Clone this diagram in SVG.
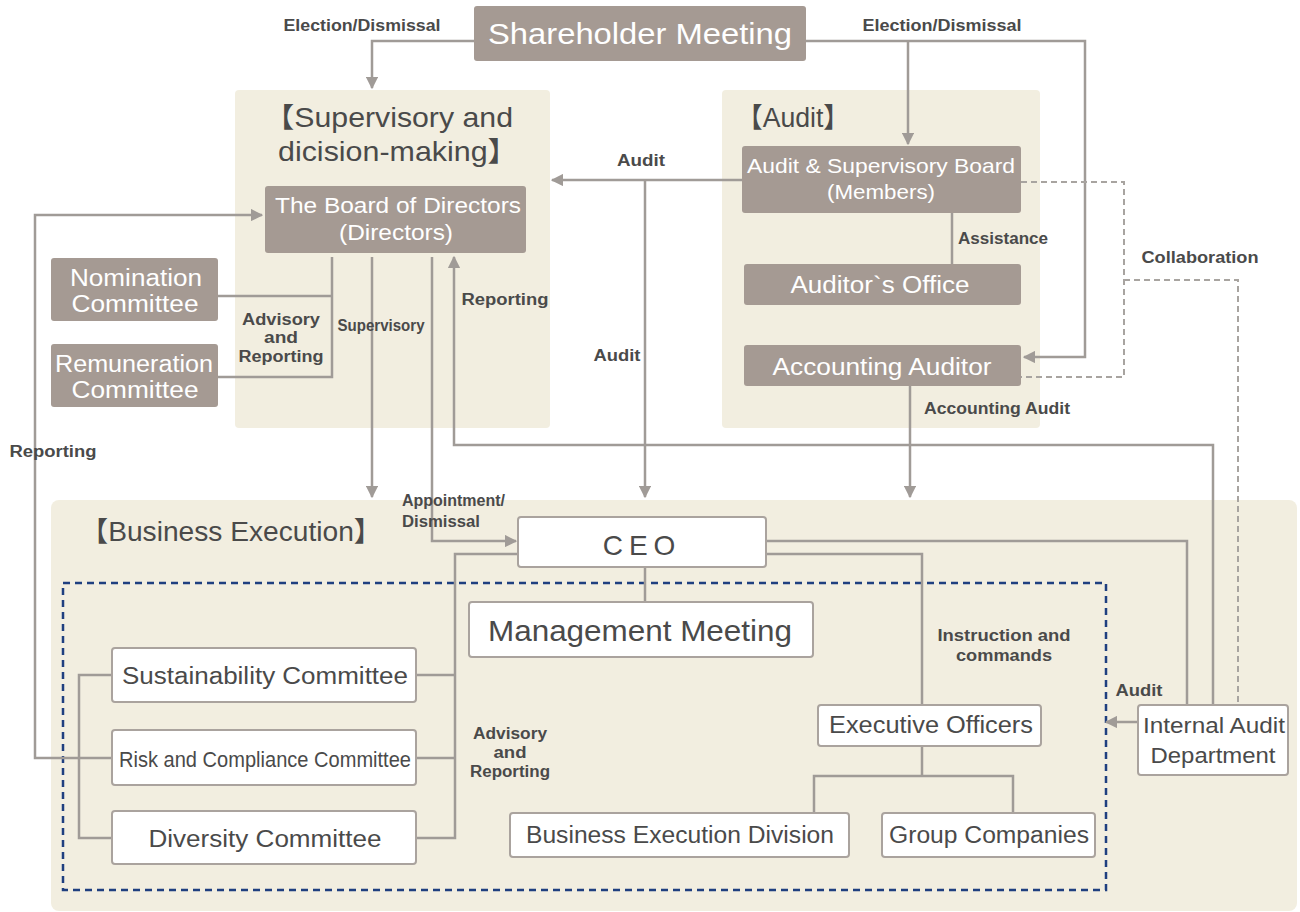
<svg xmlns="http://www.w3.org/2000/svg" width="1300" height="912" viewBox="0 0 1300 912">
<defs>
<style>
text{font-family:"Liberation Sans","Noto Sans","Noto Sans CJK JP",sans-serif;}
.panel{fill:#f2eee0;}
.gbox{fill:#a59a93;}
.wbox{fill:#ffffff;stroke:#aaa39e;stroke-width:2;}
.wt{fill:#ffffff;text-anchor:middle;}
.dt{fill:#4a4a4a;text-anchor:middle;}
.lbl{fill:#4a4a4a;font-size:16px;font-weight:bold;text-anchor:middle;}
.ttl{fill:#4a4a4a;font-size:27.5px;}
.ln{fill:none;stroke:#a09b97;stroke-width:2.5;}
.dash{fill:none;stroke:#a8a4a0;stroke-width:2;stroke-dasharray:6 4;}
.blue{fill:none;stroke:#1f3f7f;stroke-width:2.5;stroke-dasharray:7 5;}
</style>
<marker id="ah" viewBox="0 0 10 10" refX="9" refY="5" markerWidth="5" markerHeight="5" orient="auto" markerUnits="strokeWidth">
<path d="M0,0 L10,5 L0,10 z" fill="#a09b97"/>
</marker>
</defs>
<rect width="1300" height="912" fill="#ffffff"/>

<g id="panels">
<rect class="panel" x="235" y="90" width="315" height="338" rx="4"/>
<text class="ttl" x="264" y="127" textLength="249" lengthAdjust="spacingAndGlyphs">【Supervisory and</text>
<text class="ttl" x="278" y="161" textLength="240" lengthAdjust="spacingAndGlyphs">dicision-making】</text>
<rect class="panel" x="722" y="90" width="318" height="338" rx="4"/>
<text class="ttl" x="736" y="127" textLength="114" lengthAdjust="spacingAndGlyphs">【Audit】</text>
<rect class="panel" x="51" y="500" width="1246" height="411" rx="8"/>
<text class="ttl" x="80" y="541" textLength="302" lengthAdjust="spacingAndGlyphs">【Business Execution】</text>
<rect class="blue" x="63" y="583" width="1043" height="307"/>
</g>

<g id="connectors">
<polyline class="ln" points="474,41 372,41 372,88" marker-end="url(#ah)"/>
<polyline class="ln" points="806,41 1085,41 1085,357 1024,357" marker-end="url(#ah)"/>
<polyline class="ln" points="908,41 908,144" marker-end="url(#ah)"/>
<polyline class="ln" points="742,180 552,180" marker-end="url(#ah)"/>
<polyline class="ln" points="645,180 645,497" marker-end="url(#ah)"/>
<polyline class="ln" points="952,213 952,264"/>
<polyline class="ln" points="910,386 910,497" marker-end="url(#ah)"/>
<polyline class="dash" points="1021,182 1124,182 1124,377 1021,377"/>
<polyline class="dash" points="1124,280 1238,280 1238,705"/>
<polyline class="ln" points="218,296 332,296"/>
<polyline class="ln" points="332,257 332,377 218,377"/>
<polyline class="ln" points="372,257 372,497" marker-end="url(#ah)"/>
<polyline class="ln" points="432,257 432,541 516,541" marker-end="url(#ah)"/>
<polyline class="ln" points="1213,705 1213,445 454,445 454,257" marker-end="url(#ah)"/>
<polyline class="ln" points="112,758 35,758 35,215 262,215" marker-end="url(#ah)"/>
<polyline class="ln" points="766,541 1187,541 1187,705"/>
<polyline class="ln" points="766,554 922,554 922,705"/>
<polyline class="ln" points="518,554 455,554 455,838 416,838"/>
<polyline class="ln" points="416,675 455,675"/>
<polyline class="ln" points="416,758 455,758"/>
<polyline class="ln" points="645,567 645,602"/>
<polyline class="ln" points="112,675 79,675 79,838 112,838"/>
<polyline class="ln" points="922,746 922,776"/>
<polyline class="ln" points="814,813 814,776 1013,776 1013,813"/>
<polyline class="ln" points="1138,722 1106,722" marker-end="url(#ah)"/>
<text class="lbl" x="362" y="31" textLength="157" lengthAdjust="spacingAndGlyphs">Election/Dismissal</text>
<text class="lbl" x="942" y="31" textLength="159" lengthAdjust="spacingAndGlyphs">Election/Dismissal</text>
<text class="lbl" x="641" y="166" textLength="48" lengthAdjust="spacingAndGlyphs">Audit</text>
<text class="lbl" x="617" y="361" textLength="47" lengthAdjust="spacingAndGlyphs">Audit</text>
<text class="lbl" x="1003" y="244" textLength="90" lengthAdjust="spacingAndGlyphs">Assistance</text>
<text class="lbl" x="997" y="414" textLength="146" lengthAdjust="spacingAndGlyphs">Accounting Audit</text>
<text class="lbl" x="1200" y="263" textLength="117" lengthAdjust="spacingAndGlyphs">Collaboration</text>
<text class="lbl" x="281" y="325" textLength="78" lengthAdjust="spacingAndGlyphs">Advisory</text>
<text class="lbl" x="281" y="343" textLength="34" lengthAdjust="spacingAndGlyphs">and</text>
<text class="lbl" x="281" y="362" textLength="85" lengthAdjust="spacingAndGlyphs">Reporting</text>
<text class="lbl" x="381" y="331" textLength="87" lengthAdjust="spacingAndGlyphs">Supervisory</text>
<text class="lbl" x="505" y="305" textLength="87" lengthAdjust="spacingAndGlyphs">Reporting</text>
<text class="lbl" x="53" y="457" textLength="87" lengthAdjust="spacingAndGlyphs">Reporting</text>
<text class="lbl" x="402" y="506" style="text-anchor:start" textLength="103" lengthAdjust="spacingAndGlyphs">Appointment/</text>
<text class="lbl" x="402" y="527" style="text-anchor:start" textLength="78" lengthAdjust="spacingAndGlyphs">Dismissal</text>
<text class="lbl" x="1004" y="641" textLength="133" lengthAdjust="spacingAndGlyphs">Instruction and</text>
<text class="lbl" x="1004" y="661" textLength="96" lengthAdjust="spacingAndGlyphs">commands</text>
<text class="lbl" x="510" y="739" textLength="74" lengthAdjust="spacingAndGlyphs">Advisory</text>
<text class="lbl" x="510" y="758" textLength="33" lengthAdjust="spacingAndGlyphs">and</text>
<text class="lbl" x="510" y="777" textLength="80" lengthAdjust="spacingAndGlyphs">Reporting</text>
<text class="lbl" x="1139" y="696" textLength="47" lengthAdjust="spacingAndGlyphs">Audit</text>
</g>

<g id="shareholder">
<rect class="gbox" x="474" y="6" width="332" height="55" rx="3"/>
<text class="wt" x="640" y="44" font-size="29" textLength="304" lengthAdjust="spacingAndGlyphs">Shareholder Meeting</text>
</g>
<g id="board">
<rect class="gbox" x="265" y="186" width="261" height="67" rx="3"/>
<text class="wt" x="398" y="213" font-size="22" textLength="246" lengthAdjust="spacingAndGlyphs">The Board of Directors</text>
<text class="wt" x="396" y="240" font-size="22" textLength="114" lengthAdjust="spacingAndGlyphs">(Directors)</text>
</g>
<g id="asboard">
<rect class="gbox" x="742" y="146" width="279" height="67" rx="3"/>
<text class="wt" x="881" y="173" font-size="21" textLength="268" lengthAdjust="spacingAndGlyphs">Audit &amp; Supervisory Board</text>
<text class="wt" x="881" y="199" font-size="21" textLength="108" lengthAdjust="spacingAndGlyphs">(Members)</text>
</g>
<g id="auditoffice">
<rect class="gbox" x="744" y="264" width="277" height="41" rx="3"/>
<text class="wt" x="880" y="293" font-size="23" textLength="179" lengthAdjust="spacingAndGlyphs">Auditor`s Office</text>
</g>
<g id="accauditor">
<rect class="gbox" x="744" y="345" width="277" height="41" rx="3"/>
<text class="wt" x="882" y="375" font-size="23" textLength="219" lengthAdjust="spacingAndGlyphs">Accounting Auditor</text>
</g>
<g id="nomination">
<rect class="gbox" x="51" y="258" width="167" height="63" rx="3"/>
<text class="wt" x="136" y="286" font-size="23" textLength="132" lengthAdjust="spacingAndGlyphs">Nomination</text>
<text class="wt" x="135" y="312" font-size="23" textLength="127" lengthAdjust="spacingAndGlyphs">Committee</text>
</g>
<g id="remuneration">
<rect class="gbox" x="51" y="344" width="167" height="63" rx="3"/>
<text class="wt" x="134" y="372" font-size="23" textLength="158" lengthAdjust="spacingAndGlyphs">Remuneration</text>
<text class="wt" x="135" y="398" font-size="23" textLength="127" lengthAdjust="spacingAndGlyphs">Committee</text>
</g>
<g id="ceo">
<rect class="wbox" x="518" y="517" width="248" height="50" rx="3"/>
<text class="dt" x="642" y="555" font-size="28" letter-spacing="6">CEO</text>
</g>
<g id="mgmt">
<rect class="wbox" x="469" y="602" width="344" height="55" rx="3"/>
<text class="dt" x="640" y="641" font-size="29" textLength="304" lengthAdjust="spacingAndGlyphs">Management Meeting</text>
</g>
<g id="sustain">
<rect class="wbox" x="112" y="648" width="304" height="54" rx="3"/>
<text class="dt" x="265" y="684" font-size="23" textLength="286" lengthAdjust="spacingAndGlyphs">Sustainability Committee</text>
</g>
<g id="risk">
<rect class="wbox" x="112" y="730" width="304" height="55" rx="3"/>
<text class="dt" x="265" y="767" font-size="22" textLength="292" lengthAdjust="spacingAndGlyphs">Risk and Compliance Committee</text>
</g>
<g id="diversity">
<rect class="wbox" x="112" y="811" width="304" height="53" rx="3"/>
<text class="dt" x="265" y="847" font-size="23" textLength="233" lengthAdjust="spacingAndGlyphs">Diversity Committee</text>
</g>
<g id="execofficers">
<rect class="wbox" x="818" y="705" width="223" height="41" rx="3"/>
<text class="dt" x="931" y="733" font-size="23" textLength="204" lengthAdjust="spacingAndGlyphs">Executive Officers</text>
</g>
<g id="bizdiv">
<rect class="wbox" x="510" y="813" width="339" height="44" rx="3"/>
<text class="dt" x="680" y="843" font-size="23" textLength="308" lengthAdjust="spacingAndGlyphs">Business Execution Division</text>
</g>
<g id="group">
<rect class="wbox" x="882" y="813" width="213" height="44" rx="3"/>
<text class="dt" x="989" y="843" font-size="23" textLength="200" lengthAdjust="spacingAndGlyphs">Group Companies</text>
</g>
<g id="internalaudit">
<rect class="wbox" x="1138" y="705" width="150" height="70" rx="3"/>
<text class="dt" x="1214" y="733" font-size="22" textLength="142" lengthAdjust="spacingAndGlyphs">Internal Audit</text>
<text class="dt" x="1213" y="763" font-size="22" textLength="125" lengthAdjust="spacingAndGlyphs">Department</text>
</g>
</svg>
